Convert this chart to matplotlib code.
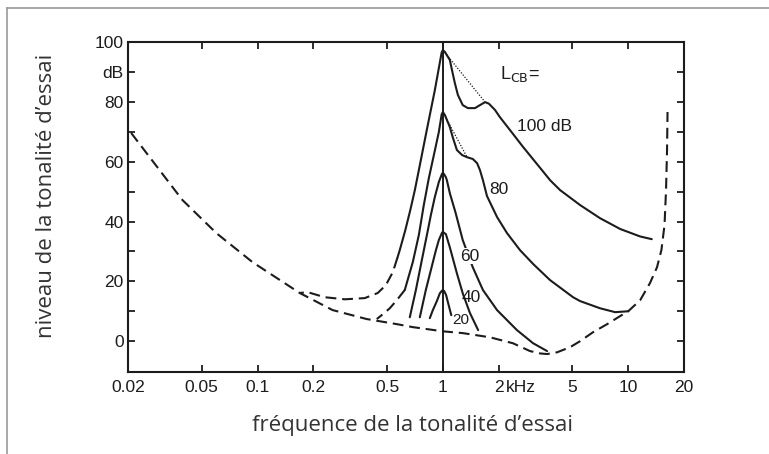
import matplotlib
matplotlib.use("Agg")
import matplotlib.pyplot as plt
from matplotlib.lines import Line2D

# ---------------- data ----------------
# threshold in quiet (dashed)
thr_f = [0.0208, 0.0393, 0.060, 0.094, 0.169, 0.254, 0.388, 0.564, 0.688, 1.0,
         1.28, 1.795, 2.39, 2.95, 3.35, 3.65, 4.14, 4.86, 5.5, 6.46, 7.7, 9.05,
         10.0, 11.6, 13.1, 14.3, 15.1, 15.7, 16.0, 16.2, 16.3]
thr_L = [69.6, 47.2, 36.1, 26.4, 16.1, 10.4, 7.4, 5.7, 4.7, 3.3,
         2.7, 1.3, -0.7, -3.3, -4.1, -4.3, -3.7, -2.0, 0.0, 3.0, 5.7, 8.4,
         10.0, 13.7, 19.4, 24.7, 30.4, 38.8, 50.5, 63.9, 76.6]

# L_CB = 100 dB masking curve (solid)
m100_f = [0.568, 0.585, 0.627, 0.667, 0.706, 0.742, 0.819, 0.905, 0.985, 1.0,
          1.025, 1.09, 1.12, 1.16, 1.205, 1.28, 1.365, 1.49, 1.585, 1.69, 1.77,
          1.91, 2.03, 2.30, 2.71, 3.35, 3.79, 4.29, 5.5, 7.05, 9.05, 11.6, 13.4]
m100_L = [27.8, 30.4, 37.1, 43.8, 50.5, 57.2, 70.6, 83.9, 96.5, 97.3,
          96.7, 94.0, 90.6, 86.3, 82.3, 78.9, 77.9, 77.9, 78.9, 79.9, 79.4,
          77.3, 74.9, 70.6, 64.9, 57.9, 53.8, 50.5, 45.5, 41.1, 37.5, 35.0, 34.1]
# low-frequency continuation (dashed)
m100_ext_f = [0.568, 0.537, 0.492, 0.445, 0.379, 0.296, 0.23, 0.186, 0.169]
m100_ext_L = [27.8, 23.1, 18.7, 16.1, 14.4, 14.0, 14.7, 16.4, 16.1]
# dotted envelope
m100_dot_f = [1.0, 1.69]
m100_dot_L = [97.3, 79.9]

# L_CB = 80 dB
m80_f = [0.623, 0.688, 0.742, 0.789, 0.84, 0.894, 0.951, 0.985, 1.0, 1.025,
         1.09, 1.13, 1.19, 1.27, 1.35, 1.45, 1.53, 1.585, 1.645, 1.73, 1.96,
         2.22, 2.61, 3.07, 3.79, 5.04, 5.5, 7.05, 8.5, 10.0]
m80_L = [17.1, 26.4, 35.5, 45.5, 54.5, 62.2, 69.9, 75.8, 76.6, 75.6,
         71.6, 68.2, 63.9, 62.2, 61.5, 60.9, 59.5, 57.2, 53.8, 48.5, 41.5,
         36.1, 30.4, 25.8, 20.4, 14.7, 13.4, 11.0, 9.7, 10.0]
m80_ext_f = [0.623, 0.564, 0.517, 0.474, 0.44]
m80_ext_L = [17.1, 13.7, 11.0, 9.0, 7.4]
m80_dot_f = [1.0, 1.35]
m80_dot_L = [76.6, 61.5]

# L_CB = 60 dB
m60_f = [0.663, 0.715, 0.77, 0.83, 0.861, 0.905, 0.951, 0.99, 1.0, 1.013,
         1.038, 1.051, 1.09, 1.17, 1.28, 1.45, 1.645, 1.96, 2.51, 3.07, 3.65]
m60_L = [8.0, 17.1, 27.1, 37.1, 42.1, 48.2, 53.2, 56.0, 56.2, 55.9,
         54.8, 53.8, 49.5, 43.0, 33.8, 24.7, 17.1, 10.4, 3.7, -0.7, -3.3]

# L_CB = 40 dB
m40_f = [0.751, 0.809, 0.861, 0.917, 0.951, 0.99, 1.0, 1.015, 1.038, 1.09,
         1.19, 1.28, 1.40, 1.55]
m40_L = [8.0, 17.1, 23.7, 30.4, 33.8, 36.3, 36.5, 36.2, 35.8, 31.4,
         22.7, 16.0, 9.4, 3.7]

# L_CB = 20 dB
m20_f = [0.85, 0.883, 0.928, 0.963, 0.99, 1.0, 1.015, 1.04, 1.075, 1.11]
m20_L = [7.7, 10.4, 13.4, 16.0, 16.9, 17.0, 16.8, 15.5, 12.0, 8.7]

# curve labels
lab_text = ["100 dB", "80", "60", "40", "20"]
lab_f = [2.51, 1.78, 1.235, 1.26, 1.12]
lab_L = [71.6, 50.8, 28.4, 14.7, 7.2]

xticks = [0.02, 0.05, 0.1, 0.2, 0.5, 1, 2, 5, 10, 20]
xlabels = ["0.02", "0.05", "0.1", "0.2", "0.5", "1", "2", "5", "10", "20"]
yticks = [0, 10, 20, 30, 40, 50, 60, 70, 80, 90, 100]
ylabels = ["0", "", "20", "", "40", "", "60", "", "80", "dB", "100"]

# ---------------- drawing ----------------
INK = "#1c1c1c"
TICKFONT = ["Liberation Sans", "DejaVu Sans"]
LABFONT = ["Open Sans", "DejaVu Sans"]

fig = plt.figure(figsize=(7.69, 4.54), dpi=100)
ax = fig.add_axes([128 / 769, 1 - 372 / 454, (684 - 128) / 769, (372 - 42) / 454])

ax.set_xscale("log")
ax.set_xlim(0.02, 20)
ax.set_ylim(-10.3, 100)

lw = 1.5
dash = (0, (5.2, 2.8))
ax.plot(thr_f, thr_L, color=INK, lw=1.5, linestyle=dash)
ax.plot(m100_ext_f, m100_ext_L, color=INK, lw=1.5, linestyle=dash)
ax.plot(m80_ext_f, m80_ext_L, color=INK, lw=1.5, linestyle=dash)
for f, L in [(m100_f, m100_L), (m80_f, m80_L), (m60_f, m60_L), (m40_f, m40_L), (m20_f, m20_L)]:
    ax.plot(f, L, color=INK, lw=lw, solid_capstyle="round", solid_joinstyle="round")
ax.plot(m100_dot_f, m100_dot_L, color=INK, lw=0.9, linestyle=(0, (1, 1.3)))
ax.plot(m80_dot_f, m80_dot_L, color=INK, lw=0.9, linestyle=(0, (1, 1.3)))
ax.axvline(1.0, color=INK, lw=1.4)

for t, f, L in zip(lab_text, lab_f, lab_L):
    kw = {}
    if t == "60":
        kw["bbox"] = dict(facecolor="white", edgecolor="none", pad=0.5)
    ax.text(f, L, t, fontsize=11 if t == "20" else 12.5, family=TICKFONT,
            color=INK, ha="left", va="center", **kw)
ax.text(2.03, 89.3, r"L$_{\mathrm{CB}}$=", fontsize=13, family=TICKFONT,
        color=INK, ha="left", va="center")

ax.set_xticks(xticks)
ax.set_xticklabels(xlabels)
ax.minorticks_off()
ax.set_yticks(yticks)
ax.set_yticklabels(ylabels)
ax.tick_params(direction="in", length=5, width=1.3, color=INK, labelsize=12.5,
               labelcolor=INK, top=True, right=True)
ax.tick_params(axis="x", pad=6)
ax.tick_params(axis="y", pad=3)
for lab in ax.get_xticklabels() + ax.get_yticklabels():
    lab.set_family(TICKFONT)
ax.annotate("kHz", xy=(2, 0), xycoords=("data", "axes fraction"),
            xytext=(5.5, -6), textcoords="offset points", ha="left", va="top",
            fontsize=12.5, family=TICKFONT, color=INK)
for s in ax.spines.values():
    s.set_linewidth(1.5)
    s.set_color(INK)

fig.text(412 / 769, 1 - 425 / 454, "fréquence de la tonalité d’essai",
         fontsize=16, family=LABFONT, color="#333333", ha="center", va="center")
fig.text(47 / 769, 1 - 196 / 454, "niveau de la tonalité d’essai", rotation=90,
         fontsize=16, family=LABFONT, color="#333333", ha="center", va="center")

# page frame lines (top and left)
fig.add_artist(Line2D([7 / 769, 1.0], [1 - 8 / 454, 1 - 8 / 454], color="#999999", lw=1.2))
fig.add_artist(Line2D([7 / 769, 7 / 769], [0.0, 1 - 8 / 454], color="#999999", lw=1.2))

fig.savefig("out.png", dpi=100)
